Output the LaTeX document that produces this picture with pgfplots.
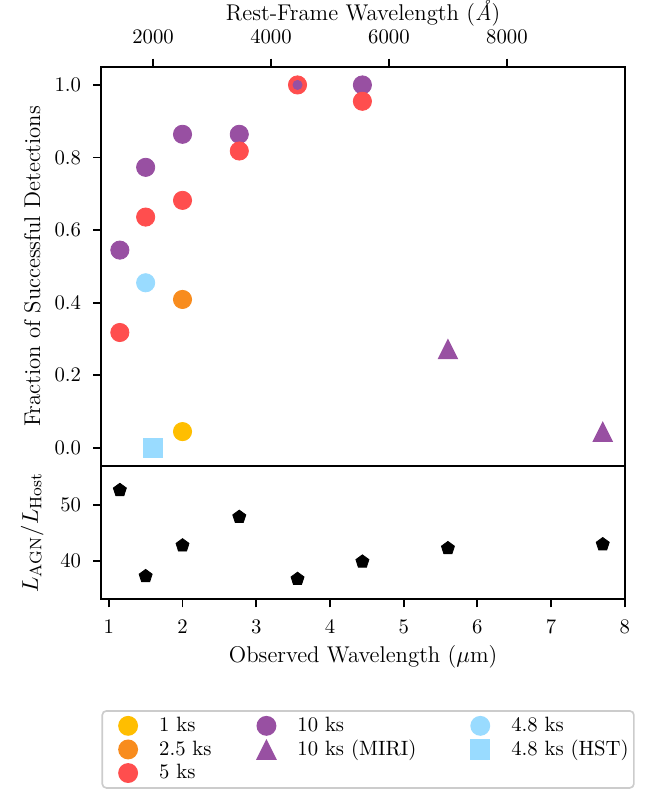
\documentclass[border=0pt]{standalone}
\usepackage{pgfplots}
\pgfplotsset{compat=1.18}
\definecolor{cyellow}{RGB}{255,190,0}
\definecolor{corange}{RGB}{248,140,30}
\definecolor{cred}{RGB}{255,78,78}
\definecolor{cpurple}{RGB}{152,80,162}
\definecolor{cblue}{RGB}{153,219,255}
\definecolor{legframe}{RGB}{204,204,204}
\pgfdeclareplotmark{mtri}{%
  \pgfpathmoveto{\pgfqpoint{0pt}{\pgfplotmarksize}}%
  \pgfpathlineto{\pgfqpoint{-\pgfplotmarksize}{-\pgfplotmarksize}}%
  \pgfpathlineto{\pgfqpoint{\pgfplotmarksize}{-\pgfplotmarksize}}%
  \pgfpathclose\pgfusepathqfill}
\pgfplotsset{
  common/.style={
    scale only axis, width=252.9pt,
    xmin=0.9, xmax=8,
    axis line style={line width=1pt},
    every outer x axis line/.append style={line width=1pt},
    every outer y axis line/.append style={line width=1pt},
    tick align=outside, major tick length=4pt,
    every tick/.style={black, line width=0.9pt},
    ytick pos=left,
    yticklabel style={xshift=-2.3pt},
    label style={font=\fontsize{11}{13}\selectfont},
    ylabel style={at={(axis description cs:-0.132,0.5)}, anchor=center, inner sep=0pt},
  },
  circ/.style={only marks, mark=*, mark size=4.4pt, color=#1},
  leg/.style={legend image code/.code={\path[draw=none,fill=none] (0pt,-5.7pt) rectangle (25pt,5.7pt); \draw[##1] plot coordinates {(10pt,0pt)};}},
}
\begin{document}
\begin{tikzpicture}
\begin{axis}[common, name=top, height=192.9pt,
  ymin=-0.05, ymax=1.05,
  xtick={1.6,3.2,4.8,6.4}, xticklabels={2000,4000,6000,8000},
  xtick pos=right, xticklabel pos=right,
  xticklabel style={yshift=3.6pt},
  xlabel={Rest-Frame Wavelength (\textit{\AA})},
  xlabel style={at={(axis description cs:0.5,1)}, yshift=26pt, anchor=center, inner sep=0pt},
  ytick={0,0.2,0.4,0.6,0.8,1},
  yticklabel style={/pgf/number format/fixed, /pgf/number format/fixed zerofill, /pgf/number format/precision=1},
  ylabel={Fraction of Successful Detections},
]
% 1 ks
\addplot[circ=cyellow] coordinates {(2.0,0.045)};
% 2.5 ks
\addplot[circ=corange] coordinates {(2.0,0.409)};
% 10 ks
\addplot[circ=cpurple] coordinates {(1.15,0.545) (1.5,0.773) (2.0,0.864) (2.77,0.864) (4.44,1.0)};
% 5 ks
\addplot[circ=cred] coordinates {(1.15,0.318) (1.5,0.636) (2.0,0.682) (2.77,0.818) (3.56,1.0) (4.44,0.955)};
% 10 ks overlapping point
\addplot[only marks, mark=*, mark size=2.2pt, color=cpurple] coordinates {(3.56,1.0)};
% 10 ks MIRI
\addplot[only marks, mark=mtri, mark size=5pt, color=cpurple] coordinates {(5.6,0.273) (7.7,0.045)};
% 4.8 ks
\addplot[circ=cblue] coordinates {(1.5,0.455)};
% 4.8 ks HST
\addplot[only marks, mark=square*, mark size=4.5pt, color=cblue] coordinates {(1.6,0.0)};
\end{axis}
\begin{axis}[common, at={(top.south west)}, anchor=north west, height=64.3pt,
  ymin=33.2, ymax=57.0,
  xtick={1,2,3,4,5,6,7,8}, xtick pos=left,
  xticklabel style={yshift=-2.7pt},
  ytick={40,50},
  xlabel={Observed Wavelength ($\mu$m)},
  xlabel style={at={(axis description cs:0.5,0)}, yshift=-28pt, anchor=center, inner sep=0pt},
  ylabel={$L_{\mathrm{AGN}}/L_{\mathrm{Host}}$},
  legend columns=3,
  legend style={at={(axis description cs:0,-0.8336)}, anchor=north west,
    draw=legframe, line width=0.8pt, rounded corners=2pt,
    inner xsep=2.5pt, inner ysep=1.5pt,
    cells={anchor=west},
    nodes={inner xsep=0pt, inner ysep=0.7pt},
    /tikz/column 2/.append style={column sep=16.5pt},
    /tikz/column 4/.append style={column sep=20.9pt},
    /tikz/column 6/.append style={column sep=2pt}},
]
\addplot[only marks, mark=pentagon*, mark size=3.3pt, color=black, forget plot] coordinates {
(1.15,52.7) (1.5,37.3) (2.0,42.8) (2.77,47.9) (3.56,36.8) (4.44,39.9) (5.6,42.3) (7.7,43.0)};
\addlegendimage{circ=cyellow, leg}\addlegendentry{1 ks}
\addlegendimage{circ=cpurple, leg}\addlegendentry{10 ks}
\addlegendimage{circ=cblue, leg}\addlegendentry{4.8 ks}
\addlegendimage{circ=corange, leg}\addlegendentry{2.5 ks}
\addlegendimage{only marks, mark=mtri, mark size=5pt, color=cpurple, leg}\addlegendentry{10 ks (MIRI)}
\addlegendimage{only marks, mark=square*, mark size=4.5pt, color=cblue, leg}\addlegendentry{4.8 ks (HST)}
\addlegendimage{circ=cred, leg}\addlegendentry{5 ks}
\end{axis}
\path ([shift={(-49pt,32.2pt)}]top.north west) rectangle ([shift={(267pt,-349.4pt)}]top.north west);
\end{tikzpicture}
\end{document}
